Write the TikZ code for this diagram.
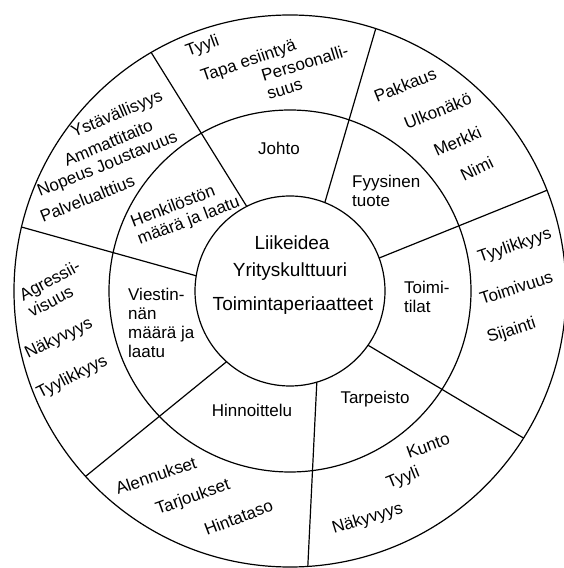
\documentclass[tikz,border=0pt]{standalone}
\usepackage{fontspec}
\setmainfont{Liberation Sans}
\begin{document}
\begin{tikzpicture}[x=1pt, y=1pt,
    ring/.style={line width=1.2pt},
    lbl/.style={font=\fontsize{17}{19}\selectfont, inner sep=0pt},
    core/.style={font=\fontsize{19}{22}\selectfont, inner sep=0pt}]
    \useasboundingbox (0,0) rectangle (564,568);
    \coordinate (O) at (290,277);

    % Rings
    \foreach \r in {95, 181, 276} {
        \draw[ring] (O) circle (\r);
    }

    % Sector borders (angle at inner circle / angle at outer circle)
    \foreach \a/\b [count=\i] in {117.1/120.2, 68.5/71.9, 20.3/21.4, -34.8/-32.2, -73.6/-86.3, 228.1/222.2, 170.8/166.6} {
        \coordinate (in\i) at ([shift={(\a:95)}]O);
        \coordinate (out\i) at ([shift={(\b:276)}]O);
        \draw[ring] (in\i) -- (out\i);
    }

    % Core
    \node[core, anchor=base] (idea) at (292,318) {Liikeidea};
    \node[core, anchor=base] (kulttuuri) at (290,291) {Yrityskulttuuri};
    \node[core, anchor=base] (periaatteet) at (293,257) {Toimintaperiaatteet};

    % Inner ring (multi-line nodes sit on their last line)
    \node[lbl, anchor=base] (johto) at (279,413) {Johto};
    \node[lbl, anchor=base west, align=left] (tuote) at (352,361) {Fyysinen\\tuote};
    \node[lbl, anchor=base west, align=left] (tilat) at (404,255) {Toimi-\\tilat};
    \node[lbl, anchor=base] (tarpeisto) at (375,164) {Tarpeisto};
    \node[lbl, anchor=base] (hinnoittelu) at (252,151) {Hinnoittelu};
    \node[lbl, anchor=base west, align=left] (viestinta) at (128,210) {Viestin-\\nän\\määrä ja\\laatu};
    \node[lbl, anchor=base west, align=left, rotate=21] (henkilosto) at (140,323) {Henkilöstön\\määrä ja laatu};

    % Outer ring
    \foreach \x/\y/\r/\t [count=\i] in {
        188/511/20/Tyyli, 203/486/19/Tapa esiintyä,
        377/465/22/Pakkaus, 407/438/22/Ulkonäkö, 437/411/24/Merkki, 464/386/26/Nimi,
        480/305/19/Tyylikkyys, 482/263/18/Toimivuus, 489/225/18/Sijainti,
        409/109/20/Kunto, 389/79/22/Tyyli, 334/34/17/Näkyvyys,
        118/73/19/Alennukset, 158/53/20/Tarjoukset, 207/32/21/Hintataso,
        28/209/26/Näkyvyys, 40/169/27/Tyylikkyys,
        74/430/23/Ystävällisyys, 67/401/23/Ammattitaito, 40/371/22/Nopeus Joustavuus, 43/345/22/Palvelualttius} {
        \node[lbl, anchor=base west, rotate=\r] (o\i) at (\x,\y) {\t};
    }
    \node[lbl, anchor=base west, align=left, rotate=17] (persoona) at (269,468) {Persoonalli-\\suus};
    \node[lbl, anchor=base west, align=left, rotate=28] (agressio) at (32,250) {Agressii-\\visuus};
\end{tikzpicture}
\end{document}
